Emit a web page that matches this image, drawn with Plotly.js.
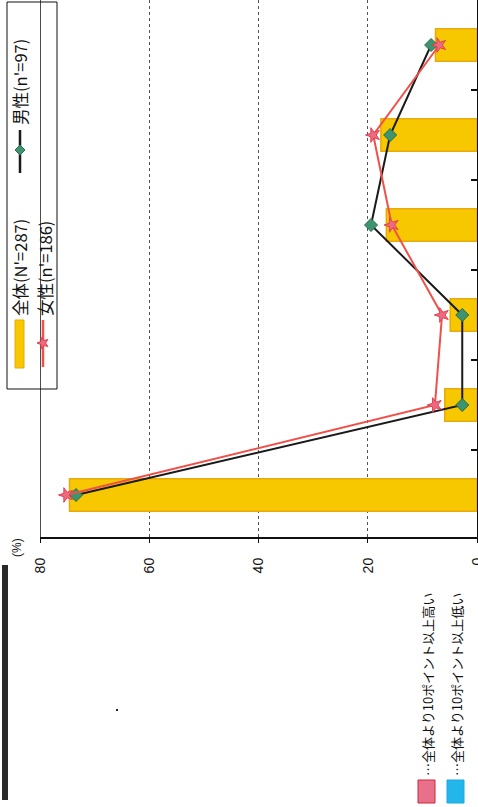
<!DOCTYPE html>
<html><head><meta charset="utf-8">
<script src="https://cdn.plot.ly/plotly-3.0.1.min.js"></script>
<style>
html,body{margin:0;padding:0;width:478px;height:807px;overflow:hidden;background:#fff;}
#wrap{position:absolute;left:0;top:0;width:807px;height:478px;transform-origin:0 0;transform:translateY(807px) rotate(-90deg);}
#chart{width:807px;height:478px;}
</style></head><body>
<div id="wrap"><div id="chart"></div></div>
<script>
// ---- data ----
const categories = ['項目1','項目2','項目3','項目4','項目5','項目6'];
const totalValues = [74.6, 5.9, 4.9, 16.6, 17.6, 7.6];
const maleValues = [73.4, 2.7, 2.7, 19.4, 15.9, 8.4];
const femaleValues = [75.2, 7.7, 6.4, 15.6, 19.0, 6.9];
const yTickValues = [0, 20, 40, 60, 80];
const yTickLabels = ['0', '20', '40', '60', '80'];
const seriesNames = ["全体(N'=287)", "男性(n'=97)", "女性(n'=186)"];
const noteLabels = ['…全体より10ポイント以上高い', '…全体より10ポイント以上低い'];
const unitLabel = '(%)';

// ---- geometry (un-rotated frame) ----
const W = 807, H = 478, ML = 270, MR = 0, MT = 40, MB = 1;
const PW = W - ML - MR, PH = H - MT - MB;
const CAT_PX = 90, CAT_OFFSET = 3;
const px = u => (u - ML) / PW;
const py = v => (H - MB - v) / PH;

const YELLOW = '#F7C800', YELLOW_EDGE = '#E9A90C';
const MALE_LINE = '#1a1a1a', MALE_MK = '#3E9470';
const FEM_LINE = '#F0504A', FEM_MK = '#EE6A80';
const JP = 'Noto Sans CJK JP, sans-serif';

function starPath(r1, r2) {
  let d = '';
  for (let i = 0; i < 10; i++) {
    const r = i % 2 === 0 ? r1 : r2;
    const a = Math.PI / 2 + i * Math.PI / 5;
    const x = (r * Math.cos(a)).toFixed(2), y = (r * Math.sin(a)).toFixed(2);
    d += (i === 0 ? 'M' : 'L') + x + ',' + y;
  }
  return d + 'Z';
}

const traces = [
  {type: 'bar', x: categories, y: totalValues, name: seriesNames[0], width: 0.36,
   marker: {color: YELLOW, line: {color: YELLOW_EDGE, width: 1.5}}, showlegend: false, hoverinfo: 'skip'},
  {type: 'scatter', mode: 'lines+markers', x: categories, y: maleValues, name: seriesNames[1],
   line: {color: MALE_LINE, width: 2},
   marker: {symbol: 'diamond', size: 10, color: MALE_MK, line: {color: '#2a6a48', width: 1}},
   showlegend: false, hoverinfo: 'skip'},
  {type: 'scatter', mode: 'lines+markers', x: categories, y: femaleValues, name: seriesNames[2],
   line: {color: FEM_LINE, width: 2},
   marker: {symbol: 'star', size: 11, color: FEM_MK, line: {color: '#E04050', width: 1}},
   showlegend: false, hoverinfo: 'skip'}
];

const shapes = [
  {type: 'line', xref: 'paper', yref: 'y', x0: 0, x1: 1, y0: 80, y1: 80, line: {color: '#111', width: 1.5}},
  {type: 'rect', xref: 'paper', yref: 'paper', x0: px(418), x1: px(805), y0: py(7), y1: py(57),
   line: {color: '#111', width: 1}, fillcolor: 'rgba(0,0,0,0)'},
  {type: 'rect', xref: 'paper', yref: 'paper', x0: px(439), x1: px(487), y0: py(15), y1: py(24),
   line: {color: YELLOW_EDGE, width: 1}, fillcolor: YELLOW},
  {type: 'line', xref: 'paper', yref: 'paper', x0: px(634), x1: px(677), y0: py(20), y1: py(20),
   line: {color: MALE_LINE, width: 2.5}},
  {type: 'path', xref: 'paper', yref: 'paper', xsizemode: 'pixel', ysizemode: 'pixel',
   xanchor: px(657), yanchor: py(20), path: 'M0,5L5,0L0,-5L-5,0Z',
   fillcolor: MALE_MK, line: {color: '#2a6a48', width: 1}},
  {type: 'line', xref: 'paper', yref: 'paper', x0: px(440), x1: px(487), y0: py(43), y1: py(43),
   line: {color: FEM_LINE, width: 2.5}},
  {type: 'path', xref: 'paper', yref: 'paper', xsizemode: 'pixel', ysizemode: 'pixel',
   xanchor: px(464), yanchor: py(43), path: starPath(6, 2.6),
   fillcolor: FEM_MK, line: {color: '#E04050', width: 1}},
  {type: 'rect', xref: 'paper', yref: 'paper', x0: px(4), x1: px(27), y0: py(418), y1: py(435),
   line: {color: '#D02838', width: 1}, fillcolor: '#E8708A'},
  {type: 'rect', xref: 'paper', yref: 'paper', x0: px(4), x1: px(27), y0: py(447), y1: py(464),
   line: {color: '#1AA8E0', width: 1}, fillcolor: '#22B6EA'},
  {type: 'rect', xref: 'paper', yref: 'paper', x0: px(7), x1: px(242), y0: py(2), y1: py(8),
   line: {width: 0}, fillcolor: '#2a2a2a'},
  {type: 'rect', xref: 'paper', yref: 'paper', x0: px(96), x1: px(98), y0: py(116), y1: py(118),
   line: {width: 0}, fillcolor: '#222'}
];

const annotations = [
  {text: seriesNames[0], x: px(489), y: py(20), xref: 'paper', yref: 'paper', xanchor: 'left', yanchor: 'middle',
   showarrow: false, font: {family: JP, size: 16.5, color: '#111'}},
  {text: seriesNames[1], x: px(680), y: py(20), xref: 'paper', yref: 'paper', xanchor: 'left', yanchor: 'middle',
   showarrow: false, font: {family: JP, size: 16.5, color: '#111'}},
  {text: seriesNames[2], x: px(489), y: py(45), xref: 'paper', yref: 'paper', xanchor: 'left', yanchor: 'middle',
   showarrow: false, font: {family: JP, size: 16.5, color: '#111'}},
  {text: noteLabels[0], x: px(29), y: py(427), xref: 'paper', yref: 'paper', xanchor: 'left', yanchor: 'middle',
   showarrow: false, font: {family: JP, size: 13, color: '#111'}},
  {text: noteLabels[1], x: px(29), y: py(456), xref: 'paper', yref: 'paper', xanchor: 'left', yanchor: 'middle',
   showarrow: false, font: {family: JP, size: 13, color: '#111'}},
  {text: unitLabel, x: px(259), y: py(17), xref: 'paper', yref: 'paper', xanchor: 'center', yanchor: 'middle',
   showarrow: false, font: {family: 'Liberation Sans, Arial, sans-serif', size: 12, color: '#111'}}
];

const xStart = -0.5 + CAT_OFFSET / CAT_PX;
const layout = {
  width: W, height: H,
  margin: {l: ML, r: MR, t: MT, b: MB, pad: 0},
  paper_bgcolor: '#fff', plot_bgcolor: '#fff',
  showlegend: false,
  xaxis: {type: 'category', range: [xStart, xStart + PW / CAT_PX], showticklabels: false,
          tickson: 'boundaries', ticks: 'inside', ticklen: 6, tickcolor: '#111', tickwidth: 1.5,
          showline: true, linecolor: '#111', linewidth: 2, showgrid: false, zeroline: false, fixedrange: true},
  yaxis: {range: [0, 80], tickvals: yTickValues, ticktext: yTickLabels,
          ticks: 'outside', ticklen: 4, tickcolor: '#111', ticklabelstandoff: 12, ticklabeloverflow: 'allow',
          tickfont: {family: 'Liberation Sans, Arial, sans-serif', size: 14, color: '#111'},
          showline: true, linecolor: '#111', linewidth: 2,
          showgrid: true, gridcolor: '#555', griddash: 'dot', gridwidth: 1, zeroline: false, fixedrange: true},
  shapes: shapes,
  annotations: annotations
};

Plotly.newPlot('chart', traces, layout, {displayModeBar: false, staticPlot: true});
</script>
</body></html>
